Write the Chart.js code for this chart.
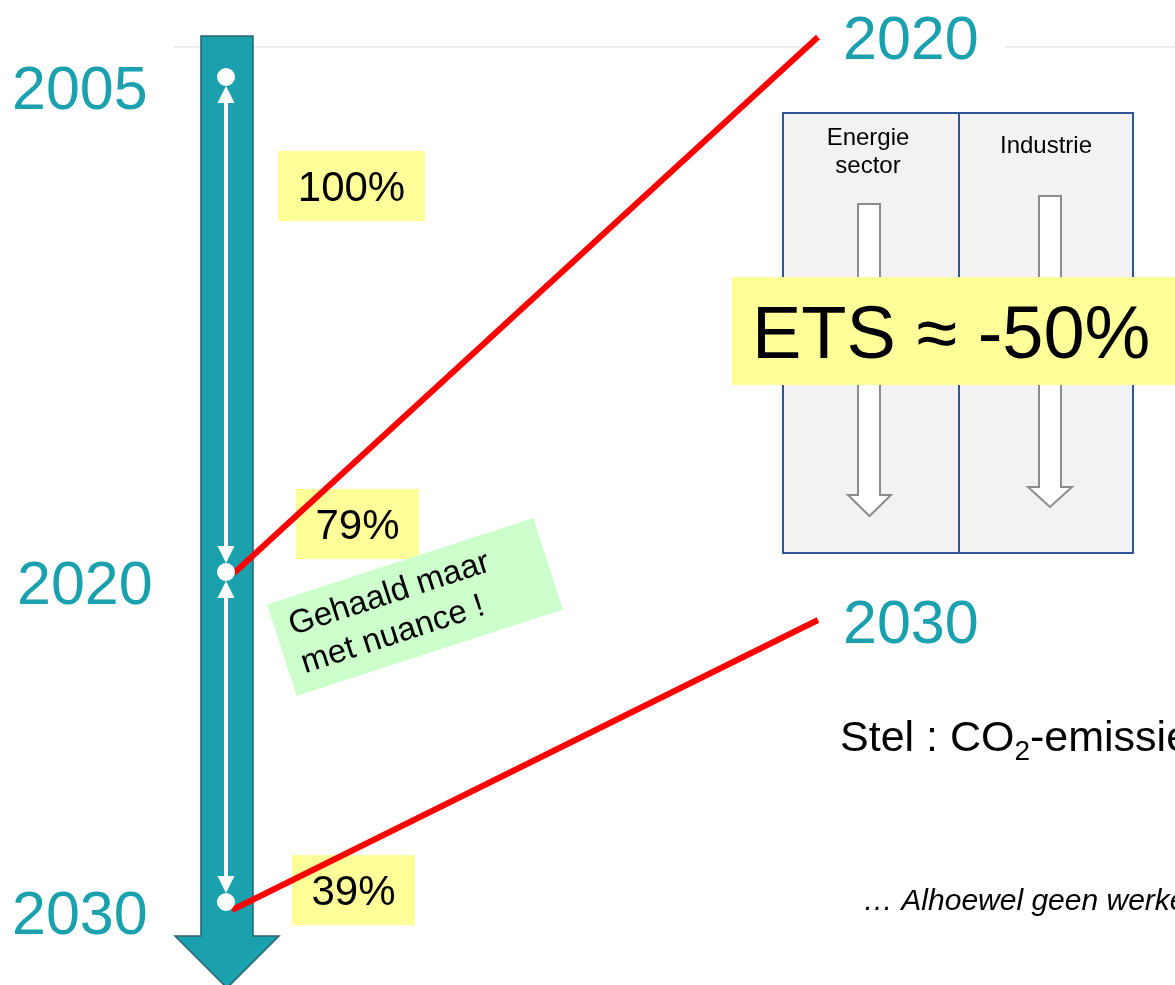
<!DOCTYPE html>
<html>
<head>
<meta charset="utf-8">
<title>ETS 2005 - 2020 - 2030</title>
<script src="https://cdn.jsdelivr.net/npm/chart.js@4.4.1/dist/chart.umd.min.js"></script>
<style>
    html, body { margin: 0; padding: 0; background: #ffffff; overflow: hidden; }
    #chart { display: block; }
</style>
</head>
<body>
<canvas id="chart" width="1175" height="985"></canvas>
<script>
// --- data ---
const years = [2005, 2020, 2030];
const yearLabels = ['2005', '2020', '2030'];
const shares = [100, 79, 39];
const shareLabels = shares.map(s => `${s}%`);
const calloutYears = [2020, 2030];          // years linked to the right-hand panel
const sectors = [['Energie', 'sector'], ['Industrie']];
const etsLabel = 'ETS \u2248 -50%';
const noteLines = ['Gehaald maar', 'met nuance !'];

// --- styling / layout (pixels) ---
const FONT = '"Liberation Sans", Arial, sans-serif';
const TEAL = '#1ba1ae';
const TEAL_EDGE = '#2b6269';
const YELLOW = '#ffff99';
const TIMELINE_X = 226;
const shareBoxes = [
    { x: 278, y: 151, w: 147, h: 70 },
    { x: 296, y: 489, w: 123, h: 70 },
    { x: 292, y: 855, w: 123, h: 70 }
];
const leftLabelX = [12, 17, 12];
const callouts = [
    { x: 818, y: 37, labelX: 843, baseline: 59, startDx: 8, startDy: 1 },
    { x: 818, y: 620, labelX: 843, baseline: 643, startDx: 6, startDy: 8 }
];

function yearPx(chart, year) {
    return chart.scales.y.getPixelForValue(year);
}

function hollowArrow(ctx, left, right, top, headBase, headLeft, headRight, tipY) {
    const mid = (headLeft + headRight) / 2;
    ctx.beginPath();
    ctx.moveTo(left, top);
    ctx.lineTo(right, top);
    ctx.lineTo(right, headBase);
    ctx.lineTo(headRight, headBase);
    ctx.lineTo(mid, tipY);
    ctx.lineTo(headLeft, headBase);
    ctx.lineTo(left, headBase);
    ctx.closePath();
    ctx.fillStyle = '#ffffff';
    ctx.fill();
    ctx.strokeStyle = '#8c8c8c';
    ctx.lineWidth = 2;
    ctx.stroke();
}

function whiteHead(ctx, x, tipY, dir) {
    // dir = -1 points up, 1 points down
    ctx.beginPath();
    ctx.moveTo(x, tipY);
    ctx.lineTo(x - 8.5, tipY - dir * 17);
    ctx.lineTo(x + 8.5, tipY - dir * 17);
    ctx.closePath();
    ctx.fill();
}

const slidePlugin = {
    id: 'slide',
    beforeDatasetsDraw(chart) {
        const ctx = chart.ctx;
        ctx.save();

        // faint title rule
        ctx.strokeStyle = '#eeeeee';
        ctx.lineWidth = 2;
        ctx.beginPath();
        ctx.moveTo(174, 47); ctx.lineTo(819, 47);
        ctx.moveTo(1005, 47); ctx.lineTo(1175, 47);
        ctx.stroke();

        // big teal timeline arrow
        ctx.beginPath();
        ctx.moveTo(201, 36);
        ctx.lineTo(253, 36);
        ctx.lineTo(253, 936);
        ctx.lineTo(279, 936);
        ctx.lineTo(227, 988);
        ctx.lineTo(175, 936);
        ctx.lineTo(201, 936);
        ctx.closePath();
        ctx.fillStyle = TEAL;
        ctx.fill();
        ctx.strokeStyle = TEAL_EDGE;
        ctx.lineWidth = 1.5;
        ctx.stroke();

        // white double arrows between the years
        ctx.fillStyle = '#ffffff';
        ctx.strokeStyle = '#ffffff';
        ctx.lineWidth = 4;
        for (let i = 0; i < years.length - 1; i++) {
            const a = yearPx(chart, years[i]) + 9;
            const b = yearPx(chart, years[i + 1]) - 9;
            ctx.beginPath();
            ctx.moveTo(TIMELINE_X, a + 10);
            ctx.lineTo(TIMELINE_X, b - 10);
            ctx.stroke();
            whiteHead(ctx, TIMELINE_X, a, -1);
            whiteHead(ctx, TIMELINE_X, b, 1);
        }

        // year labels on the left
        ctx.fillStyle = TEAL;
        ctx.font = `61px ${FONT}`;
        ctx.textAlign = 'left';
        ctx.textBaseline = 'alphabetic';
        years.forEach((yr, i) => {
            ctx.fillText(yearLabels[i], leftLabelX[i], yearPx(chart, yr) + 32);
        });

        // share boxes
        ctx.font = `42px ${FONT}`;
        ctx.textAlign = 'center';
        shareBoxes.forEach((b, i) => {
            ctx.fillStyle = YELLOW;
            ctx.fillRect(b.x, b.y, b.w, b.h);
            ctx.fillStyle = '#000000';
            ctx.fillText(shareLabels[i], b.x + b.w / 2, b.y + b.h / 2 + 15);
        });

        // green remark, tilted
        ctx.save();
        ctx.translate(415, 607);
        ctx.rotate(-18 * Math.PI / 180);
        ctx.fillStyle = '#ccffcc';
        ctx.fillRect(-140, -48, 280, 96);
        ctx.fillStyle = '#000000';
        ctx.font = `33px ${FONT}`;
        ctx.textAlign = 'left';
        noteLines.forEach((line, i) => ctx.fillText(line, -125, -11 + i * 40));
        ctx.restore();

        // red connectors to the right-hand labels
        ctx.strokeStyle = '#ff0000';
        ctx.lineWidth = 6;
        calloutYears.forEach((yr, i) => {
            const c = callouts[i];
            ctx.beginPath();
            ctx.moveTo(TIMELINE_X + c.startDx, yearPx(chart, yr) + c.startDy);
            ctx.lineTo(c.x, c.y);
            ctx.stroke();
        });

        ctx.restore();
    },
    afterDatasetsDraw(chart) {
        const ctx = chart.ctx;
        ctx.save();

        // right-hand year labels
        ctx.fillStyle = TEAL;
        ctx.font = `61px ${FONT}`;
        ctx.textAlign = 'left';
        calloutYears.forEach((yr, i) => {
            ctx.fillText(String(yr), callouts[i].labelX, callouts[i].baseline);
        });

        // sector panel
        ctx.fillStyle = '#f2f2f2';
        ctx.fillRect(783, 113, 350, 440);
        ctx.strokeStyle = '#2f5597';
        ctx.lineWidth = 2;
        ctx.strokeRect(783, 113, 350, 440);
        ctx.beginPath();
        ctx.moveTo(959, 113); ctx.lineTo(959, 553);
        ctx.stroke();

        ctx.fillStyle = '#000000';
        ctx.font = `24px ${FONT}`;
        ctx.textAlign = 'center';
        sectors[0].forEach((line, i) => ctx.fillText(line, 868, 145 + i * 28));
        sectors[1].forEach((line, i) => ctx.fillText(line, 1046, 153 + i * 28));

        hollowArrow(ctx, 858, 880, 204, 495, 848, 891, 516);
        hollowArrow(ctx, 1039, 1061, 196, 487, 1028, 1072, 507);

        // ETS banner
        ctx.fillStyle = YELLOW;
        ctx.fillRect(732, 277, 460, 108);
        ctx.fillStyle = '#000000';
        ctx.font = `74px ${FONT}`;
        ctx.textAlign = 'left';
        ctx.fillText(etsLabel, 752, 358);

        // statement, runs off the slide edge
        ctx.font = `43px ${FONT}`;
        let x = 840;
        ctx.fillText('Stel : CO', x, 751);
        x += ctx.measureText('Stel : CO').width;
        ctx.font = `28px ${FONT}`;
        ctx.fillText('2', x, 760);
        x += ctx.measureText('2').width;
        ctx.font = `43px ${FONT}`;
        ctx.fillText('-emissies', x, 751);

        ctx.font = `italic 30px ${FONT}`;
        ctx.fillText('\u2026 Alhoewel geen werkelijke daling', 863, 910);

        ctx.restore();
    }
};

const ctx = document.getElementById('chart').getContext('2d');

new Chart(ctx, {
    type: 'scatter',
    data: {
        datasets: [
            {
                label: 'Aandeel t.o.v. 2005',
                data: years.map((yr, i) => ({ x: TIMELINE_X, y: yr, share: shares[i] })),
                pointRadius: 9,
                pointHoverRadius: 9,
                pointBackgroundColor: '#ffffff',
                pointBorderWidth: 0,
                clip: false
            }
        ]
    },
    options: {
        responsive: false,
        animation: false,
        devicePixelRatio: 1,
        layout: { padding: 0, autoPadding: false },
        events: [],
        plugins: {
            legend: { display: false },
            tooltip: { enabled: false },
            title: { display: false }
        },
        scales: {
            x: { type: 'linear', display: false, min: 0, max: 1175 },
            y: { type: 'linear', display: false, reverse: true, min: 2002.667, max: 2032.515 }
        }
    },
    plugins: [slidePlugin]
});
</script>
</body>
</html>
